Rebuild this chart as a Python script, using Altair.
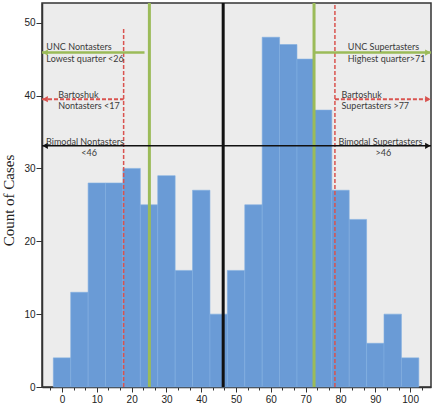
import altair as alt
import pandas as pd

# ---- data ----
bin_centers = [0, 5, 10, 15, 20, 25, 30, 35, 40, 45, 50, 55, 60, 65, 70, 75, 80, 85, 90, 95, 100]
counts = [4, 13, 28, 28, 30, 25, 29, 16, 27, 10, 16, 25, 48, 47, 45, 38, 27, 23, 6, 10, 4]
bin_width = 5

x_tick_values = [k * 10 / 3 for k in range(-1, 32)]
y_tick_values = [0, 10, 20, 30, 40, 50]
x_domain = [-5.75, 106.0]
y_domain = [0, 52.7]

# cut-off lines
unc_low, unc_high = 25.1, 72.4
bart_low, bart_high = 17.7, 78.4
bimodal_cut = 46.3
bart_low_top = 49.3
unc_low_arrow_end = 23.7

# arrow heights
unc_y = 45.9
bart_y = 39.5
bimodal_y = 33.1

# annotations
left_texts = ["UNC Nontasters", "Lowest quarter <26", "Bartoshuk", "Nontasters <17",
              "Bimodal Nontasters", "UNC Supertasters", "Highest quarter>71",
              "Bartoshuk", "Supertasters >77", "Bimodal Supertasters"]
left_x = [-4.5, -4.5, -1.1, -1.1, -4.6, 82.1, 82.1, 80.3, 80.3, 79.4]
left_y = [46.6, 45.0, 40.1, 38.6, 33.65, 46.6, 45.0, 40.1, 38.6, 33.65]
center_texts = ["<46", ">46"]
center_x = [7.8, 92.3]
center_y = [32.1, 32.1]

# ---- build tables ----
bars = pd.DataFrame({
    "x0": [c - bin_width / 2 for c in bin_centers],
    "x1": [c + bin_width / 2 for c in bin_centers],
    "count": counts,
})

xs = alt.Scale(domain=x_domain, nice=False, zero=False)
ys = alt.Scale(domain=y_domain, nice=False, zero=True)

major_test = "abs(datum.value - round(datum.value / 10) * 10) < 0.01"

x_axis = alt.Axis(
    values=x_tick_values,
    labelExpr=f"{major_test} ? format(round(datum.value), 'd') : ''",
    tickSize={"condition": {"test": major_test, "value": 5}, "value": 3},
    grid=False, title=None, labelOverlap=False, labelFlush=False,
    domainColor="#333333", tickColor="#333333", domainWidth=1.5,
    labelFont="Liberation Sans", labelFontSize=10, labelColor="#222222", labelPadding=2,
)
y_axis = alt.Axis(
    values=y_tick_values, grid=False, tickSize=6, labelPadding=1,
    domainColor="#333333", tickColor="#333333", domainWidth=1.5,
    labelFont="Liberation Sans", labelFontSize=10, labelColor="#222222",
    title="Count of Cases", titleFont="Liberation Serif", titleFontSize=15,
    titleFontWeight="normal", titleColor="#222222", titleX=-29, titleY=197,
    titleAlign="center", titleBaseline="alphabetic", titleAngle=270,
)

def X(f):
    return alt.X(f, type="quantitative", scale=xs, axis=x_axis)

def Y(f):
    return alt.Y(f, type="quantitative", scale=ys, axis=y_axis)

bar_layer = alt.Chart(bars).mark_bar(color="#6a9bd6", stroke="#82aee0", strokeWidth=0.6).encode(
    x=X("x0"),
    x2="x1:Q",
    y=Y("count"),
    y2=alt.datum(0),
)

green = "#9bbb59"
red = "#d9534f"

v_green = pd.DataFrame({"x": [unc_low, unc_high], "y0": [0, 0], "y1": [y_domain[1], y_domain[1]]})
v_red = pd.DataFrame({"x": [bart_low, bart_high], "y0": [0, 0], "y1": [bart_low_top, y_domain[1]]})
v_black = pd.DataFrame({"x": [bimodal_cut], "y0": [0], "y1": [y_domain[1]]})

h_green = pd.DataFrame({"y": [unc_y, unc_y], "x0": [x_domain[0], unc_high], "x1": [unc_low_arrow_end, x_domain[1]]})
h_red = pd.DataFrame({"y": [bart_y, bart_y], "x0": [x_domain[0], bart_high], "x1": [bart_low, x_domain[1]]})
h_black = pd.DataFrame({"y": [bimodal_y], "x0": [x_domain[0]], "x1": [x_domain[1]]})

def vrule(df, **kw):
    return alt.Chart(df).mark_rule(**kw).encode(x=X("x"), y=Y("y0"), y2="y1")

def hrule(df, **kw):
    return alt.Chart(df).mark_rule(**kw).encode(y=Y("y"), x=X("x0"), x2="x1")

head_off = 0.9
heads_left = pd.DataFrame({"x": [x_domain[0] + head_off] * 3, "y": [unc_y, bart_y, bimodal_y],
                           "k": ["g", "r", "b"]})
heads_right = pd.DataFrame({"x": [x_domain[1] - head_off] * 3, "y": [unc_y, bart_y, bimodal_y],
                            "k": ["g", "r", "b"]})
head_color = alt.Color("k:N", scale=alt.Scale(domain=["g", "r", "b"], range=[green, red, "#111111"]),
                       legend=None)

def heads(df, shape):
    return alt.Chart(df).mark_point(shape=shape, filled=True, size=40, opacity=1).encode(
        x=X("x"), y=Y("y"), color=head_color)

txt_left = pd.DataFrame({"x": left_x, "y": left_y, "t": left_texts})
txt_center = pd.DataFrame({"x": center_x, "y": center_y, "t": center_texts})

text_left = alt.Chart(txt_left).mark_text(align="left", baseline="middle", font="Lato",
                                          fontSize=9, color="#3a3a3a").encode(
    x=X("x"), y=Y("y"), text="t:N")
text_center = alt.Chart(txt_center).mark_text(align="center", baseline="middle", font="Lato",
                                              fontSize=9, color="#3a3a3a").encode(
    x=X("x"), y=Y("y"), text="t:N")

chart = alt.layer(
    bar_layer,
    vrule(v_green, color=green, strokeWidth=3),
    vrule(v_red, color=red, strokeWidth=1.5, strokeDash=[4, 2]),
    vrule(v_black, color="#111111", strokeWidth=3),
    hrule(h_green, color=green, strokeWidth=2.5),
    hrule(h_red, color=red, strokeWidth=2, strokeDash=[4, 2]),
    hrule(h_black, color="#111111", strokeWidth=1.5),
    heads(heads_left, "triangle-left"),
    heads(heads_right, "triangle-right"),
    text_left,
    text_center,
).properties(
    width=389, height=384,
    autosize=alt.AutoSizeParams(type="none"),
    padding={"left": 42, "top": 3, "right": 5, "bottom": 20},
    background="white",
).configure_view(fill="#ececec", stroke="#333333", strokeWidth=1.5)

chart.save("out.html", embed_options={"renderer": "svg", "actions": False})
